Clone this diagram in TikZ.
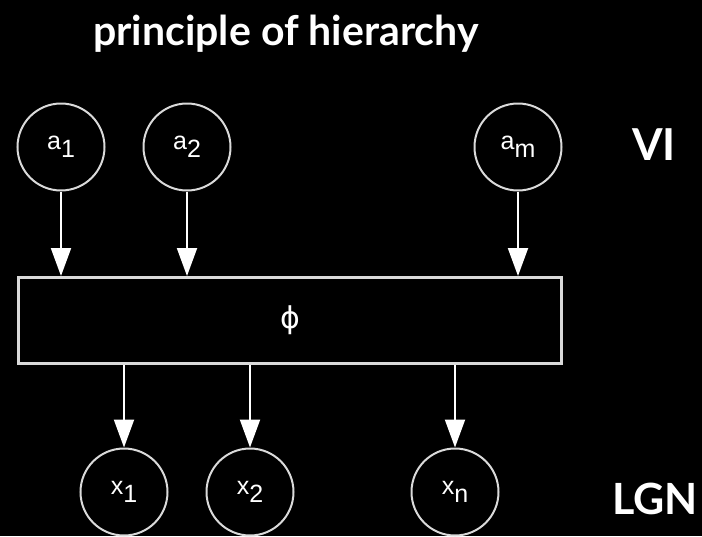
\documentclass[tikz,border=0pt]{standalone}
\usepackage{fontspec}
\setmainfont{Liberation Sans}
\newfontfamily\titlefont{Lato}
\newfontfamily\phifont{DejaVu Sans}
\usetikzlibrary{arrows.meta}
\definecolor{strk}{HTML}{DADADA}
\tikzset{
  unit/.style={circle, draw=strk, line width=2pt, minimum size=87pt, inner sep=0pt, text=white},
  layer/.style={draw=strk, line width=3pt, minimum width=543pt, minimum height=86pt, inner sep=0pt, text=white},
  conn/.style={draw=white, line width=2pt, -{Triangle[width=20pt,length=28pt,fill=white]}},
  lbl/.style={text=white, inner sep=0pt, anchor=base},
}
\newcommand{\sublbl}[2]{{\fontsize{25}{25}\selectfont #1\raisebox{-8pt}{#2}}}
\begin{document}
\begin{tikzpicture}[x=1pt,y=-1pt]
\fill[black] (0,0) rectangle (702,536);
\useasboundingbox (0,0) rectangle (702,536);
\node[lbl] (title) at (286,45) {\titlefont\bfseries\fontsize{41}{41}\selectfont principle of hierarchy};
\node[unit] (a1) at (61,147) {\sublbl{a}{1}};
\node[unit] (a2) at (187,147) {\sublbl{a}{2}};
\node[unit] (am) at (518,147) {\sublbl{a}{m}};
\node[lbl] (v1) at (654,160) {\titlefont\bfseries\fontsize{44}{44}\selectfont VI};
\node[lbl] (lgn) at (655,514) {\titlefont\bfseries\fontsize{43}{43}\selectfont LGN};
\node[layer] (phi) at (290,320.5) {\phifont\fontsize{30}{30}\selectfont ϕ};
\node[unit] (x1) at (124,492) {\sublbl{x}{1}};
\node[unit] (x2) at (250,492) {\sublbl{x}{2}};
\node[unit] (xn) at (455,492) {\sublbl{x}{n}};
\draw[conn] (a1.south) -- (a1.south |- phi.north);
\draw[conn] (a2.south) -- (a2.south |- phi.north);
\draw[conn] (am.south) -- (am.south |- phi.north);
\draw[conn] (x1.north |- phi.south) -- (x1.north);
\draw[conn] (x2.north |- phi.south) -- (x2.north);
\draw[conn] (xn.north |- phi.south) -- (xn.north);
\end{tikzpicture}
\end{document}
